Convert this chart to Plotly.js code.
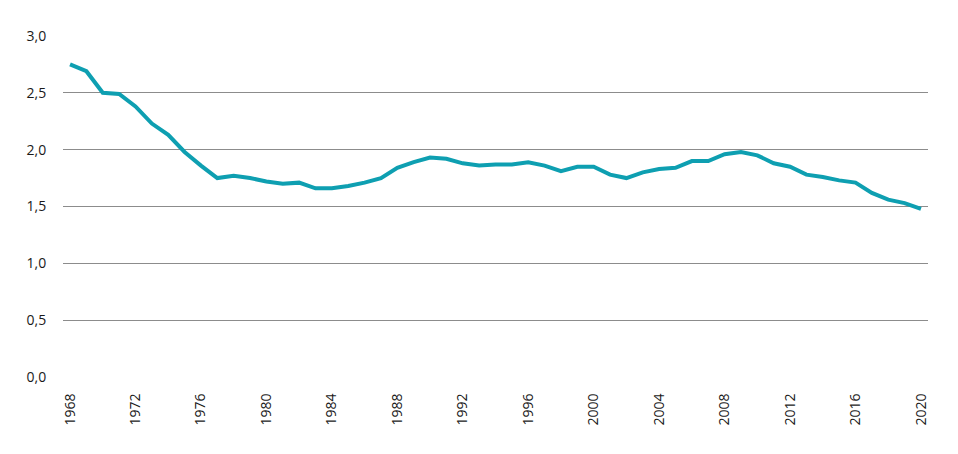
<!DOCTYPE html>
<html><head><meta charset="utf-8">
<script src="https://cdn.plot.ly/plotly-3.0.1.min.js"></script>
<style>html,body{margin:0;padding:0;background:#fff}#c{width:958px;height:454px}</style>
</head><body><div id="c"></div>
<script>
const years = [1968,1969,1970,1971,1972,1973,1974,1975,1976,1977,1978,1979,1980,1981,1982,1983,1984,1985,1986,1987,1988,1989,1990,1991,1992,1993,1994,1995,1996,1997,1998,1999,2000,2001,2002,2003,2004,2005,2006,2007,2008,2009,2010,2011,2012,2013,2014,2015,2016,2017,2018,2019,2020];
const fertility = [2.75,2.69,2.50,2.49,2.38,2.23,2.13,1.98,1.86,1.75,1.77,1.75,1.72,1.70,1.71,1.66,1.66,1.68,1.71,1.75,1.84,1.89,1.93,1.92,1.88,1.86,1.87,1.87,1.89,1.86,1.81,1.85,1.85,1.78,1.75,1.80,1.83,1.84,1.90,1.90,1.96,1.98,1.95,1.88,1.85,1.78,1.76,1.73,1.71,1.62,1.56,1.53,1.48];
const xTicks = [1968,1972,1976,1980,1984,1988,1992,1996,2000,2004,2008,2012,2016,2020];
const yTicks = [0,0.5,1,1.5,2,2.5,3];

Plotly.newPlot('c', [{
  x: years, y: fertility, type: 'scatter', mode: 'lines',
  line: {color: '#0e9fb1', width: 4},
  hoverinfo: 'skip'
}], {
  width: 958, height: 454,
  margin: {l: 63, r: 30, t: 36, b: 77},
  paper_bgcolor: '#fff', plot_bgcolor: '#fff',
  separators: ', ',
  showlegend: false,
  xaxis: {
    range: [1967.57, 2020.43], tickvals: xTicks, ticktext: xTicks.map(String),
    tickangle: -90, showgrid: false, zeroline: false, showline: false,
    ticks: 'outside', ticklen: 10, tickcolor: 'rgba(0,0,0,0)',
    tickfont: {family: 'Open Sans, sans-serif', size: 14, color: '#1a1a1a'}
  },
  yaxis: {
    range: [0, 3], tickvals: yTicks, tickformat: '.1f',
    showgrid: true, gridcolor: '#8c8c8c', gridwidth: 1, zeroline: false, showline: false,
    ticks: 'outside', ticklen: 13, tickcolor: 'rgba(0,0,0,0)',
    tickfont: {family: 'Open Sans, sans-serif', size: 14, color: '#1a1a1a'}
  }
}, {staticPlot: true});
</script></body></html>
